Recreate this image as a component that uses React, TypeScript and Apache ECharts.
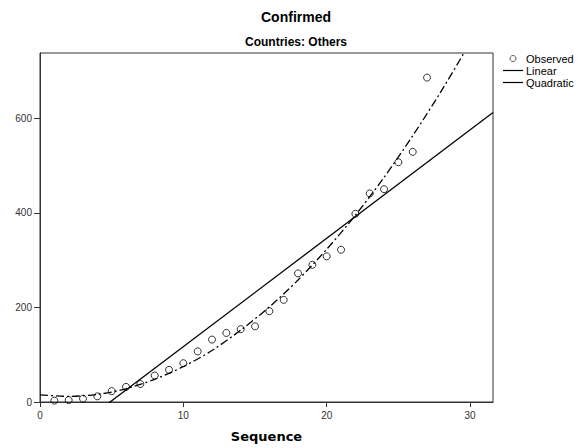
import React, { useEffect, useRef } from "react";
import * as echarts from "echarts";

const chartTitle = "Confirmed";
const chartSubtitle = "Countries: Others";
const xAxisName = "Sequence";

const sequence = [1, 2, 3, 4, 5, 6, 7, 8, 9, 10, 11, 12, 13, 14, 15, 16, 17, 18, 19, 20, 21, 22, 23, 24, 25, 26, 27];
const observed = [3, 4, 7, 12, 23, 32, 38, 56, 68, 82, 107, 132, 146, 154, 160, 192, 216, 272, 290, 308, 322, 398, 441, 450, 507, 529, 686];

const linearX = [0, 31.6];
const linearY = [-112, 612];

const quadX = [0, 2, 4, 6, 8, 10, 12, 14, 16, 18, 20, 22, 24, 26, 28, 30];
const quadY = [15, 12, 16, 28, 48, 75, 109, 152, 201, 258, 323, 395, 475, 563, 658, 760];

const xTicks = [0, 10, 20, 30];
const yTicks = [0, 200, 400, 600];

const FONT = "'Liberation Sans', Arial, sans-serif";
const LINE_ICON = "path://M0,0H20V1.2H0Z";

export default function App() {
  const ref = useRef<HTMLDivElement>(null);

  useEffect(() => {
    if (!ref.current) return;
    const chart = echarts.init(ref.current, undefined, { renderer: "svg" });
    const axisColor = "#333";
    chart.setOption({
      animation: false,
      backgroundColor: "#fff",
      textStyle: { fontFamily: FONT },
      graphic: [
        {
          type: "text",
          x: 296,
          y: 17,
          style: {
            text: chartTitle,
            align: "center",
            verticalAlign: "middle",
            font: `bold 14px ${FONT}`,
            fill: "#000",
          },
        },
        {
          type: "text",
          x: 296,
          y: 42,
          style: {
            text: chartSubtitle,
            align: "center",
            verticalAlign: "middle",
            font: `bold 12px ${FONT}`,
            fill: "#000",
          },
        },
      ],
      legend: {
        orient: "vertical",
        left: 503,
        top: 53,
        padding: 0,
        itemWidth: 20,
        itemHeight: 6,
        itemGap: 1,
        textStyle: { fontSize: 11, color: "#000", fontFamily: FONT, padding: [0, 0, 0, -2] },
        data: [
          {
            name: "Observed",
            icon: "circle",
            itemStyle: { color: "transparent", borderColor: "#000", borderWidth: 0.8 },
          },
          { name: "Linear", icon: LINE_ICON, itemStyle: { color: "#000", borderWidth: 0 } },
          { name: "Quadratic", icon: LINE_ICON, itemStyle: { color: "#000", borderWidth: 0 } },
        ],
      },
      grid: {
        left: 40,
        right: 92,
        top: 53,
        bottom: 41,
        show: true,
        borderColor: axisColor,
        borderWidth: 1,
        backgroundColor: "transparent",
      },
      xAxis: {
        type: "value",
        min: 0,
        max: 31.6,
        name: xAxisName,
        nameLocation: "middle",
        nameGap: 28,
        nameTextStyle: {
          fontFamily: "'DejaVu Sans', sans-serif",
          fontWeight: "bold",
          fontSize: 13,
          color: "#000",
        },
        axisLine: { show: true, lineStyle: { color: axisColor, width: 1 } },
        axisTick: {
          show: true,
          length: 5,
          customValues: xTicks,
          lineStyle: { color: axisColor },
        },
        axisLabel: {
          customValues: xTicks,
          fontSize: 10,
          color: "#333",
          margin: 8,
        },
        splitLine: { show: false },
      },
      yAxis: {
        type: "value",
        min: 0,
        max: 738,
        axisLine: { show: true, lineStyle: { color: axisColor, width: 1 } },
        axisTick: {
          show: true,
          length: 6,
          customValues: yTicks,
          lineStyle: { color: axisColor },
        },
        axisLabel: {
          customValues: yTicks,
          fontSize: 10,
          color: "#333",
          margin: 8,
        },
        splitLine: { show: false },
      },
      series: [
        {
          name: "Observed",
          type: "scatter",
          symbol: "circle",
          symbolSize: 7,
          itemStyle: { color: "transparent", borderColor: "#000", borderWidth: 1 },
          data: sequence.map((s, i) => [s, observed[i]]),
          z: 3,
        },
        {
          name: "Linear",
          type: "line",
          symbol: "none",
          showSymbol: false,
          clip: true,
          lineStyle: { color: "#000", width: 1.3 },
          itemStyle: { color: "#000" },
          data: linearX.map((x, i) => [x, linearY[i]]),
          z: 2,
        },
        {
          name: "Quadratic",
          type: "line",
          symbol: "none",
          showSymbol: false,
          clip: true,
          smooth: 0.3,
          lineStyle: { color: "#000", width: 1.3, type: [8, 3, 2, 3] },
          itemStyle: { color: "#000" },
          data: quadX.map((x, i) => [x, quadY[i]]),
          z: 2,
        },
      ],
    });
    return () => chart.dispose();
  }, []);

  return <div ref={ref} style={{ width: 585, height: 448, position: "absolute", left: 0, top: 0 }} />;
}
